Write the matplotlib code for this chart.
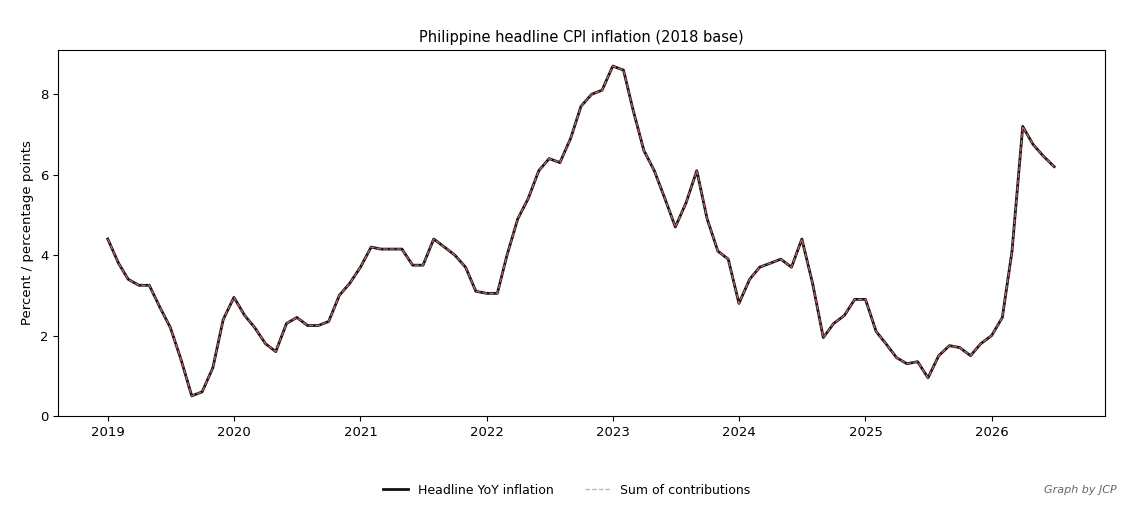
import matplotlib
matplotlib.use("Agg")
import matplotlib.pyplot as plt
import pandas as pd

headline = [4.4, 3.8, 3.4, 3.25, 3.25, 2.7, 2.2, 1.4, 0.5, 0.6, 1.2, 2.4,
            2.95, 2.5, 2.2, 1.8, 1.6, 2.3, 2.45, 2.25, 2.25, 2.35, 3.0, 3.3,
            3.7, 4.2, 4.15, 4.15, 4.15, 3.75, 3.75, 4.4, 4.2, 4.0, 3.7, 3.1,
            3.05, 3.05, 4.0, 4.9, 5.4, 6.1, 6.4, 6.3, 6.9, 7.7, 8.0, 8.1,
            8.7, 8.6, 7.6, 6.6, 6.1, 5.4, 4.7, 5.3, 6.1, 4.9, 4.1, 3.9,
            2.8, 3.4, 3.7, 3.8, 3.9, 3.7, 4.4, 3.3, 1.95, 2.3, 2.5, 2.9,
            2.9, 2.1, 1.8, 1.45, 1.3, 1.35, 0.95, 1.5, 1.75, 1.7, 1.5, 1.8,
            2.0, 2.45, 4.1, 7.2, 6.75, 6.45, 6.2]
contrib = list(headline)
dates = pd.date_range("2019-01-01", periods=len(headline), freq="MS")

plt.rcParams["font.size"] = 9.5
fig = plt.figure(figsize=(11.34, 5.2), dpi=100)
ax = fig.add_axes([58/1134, 1-416/520, (1105-58)/1134, (416-50)/520])
ax.plot(dates, headline, color="#111111", lw=2, label="Headline YoY inflation")
ax.plot(dates, contrib, color="#f08080", lw=0.9, ls="--", alpha=0.8, label="Sum of contributions")
ax.set_ylim(0, 9.1)
ax.set_yticks([0, 2, 4, 6, 8])
ax.set_xlim(pd.Timestamp("2018-08-10"), pd.Timestamp("2026-11-25"))
ax.set_xticks([pd.Timestamp(f"{y}-01-01") for y in range(2019, 2027)])
ax.set_xticklabels([str(y) for y in range(2019, 2027)])
ax.set_ylabel("Percent / percentage points")
ax.set_title("Philippine headline CPI inflation (2018 base)", fontsize=10.5)
fig.legend(loc="center", bbox_to_anchor=(0.5, 1-490/520), ncol=2, frameon=False,
           fontsize=9, columnspacing=2.5)
fig.text(0.985, 1-490/520, "Graph by JCP", ha="right", va="center", fontsize=8, style="italic", color="#666666")
fig.savefig("out.png", dpi=100)
